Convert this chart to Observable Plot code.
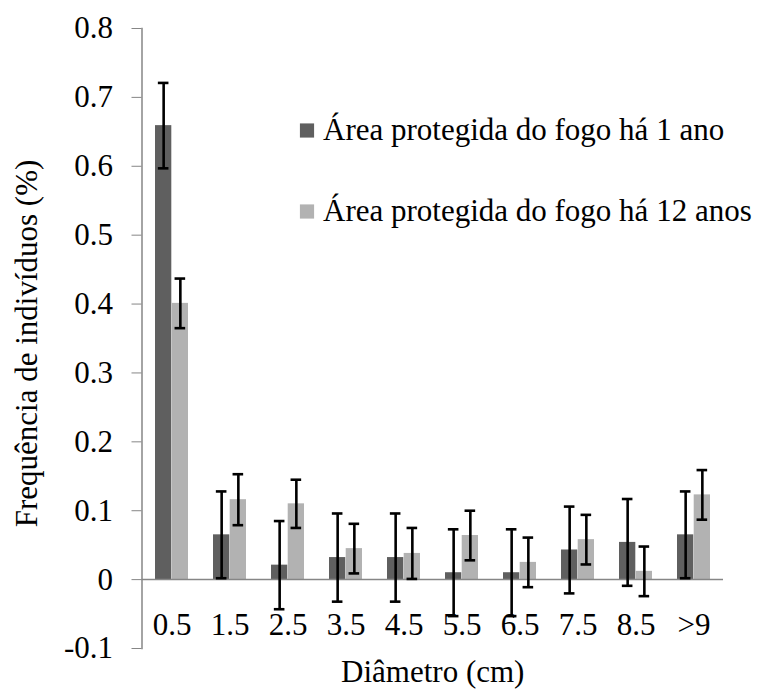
<!DOCTYPE html>
<html>
<head>
<meta charset="utf-8">
<script src="https://cdn.jsdelivr.net/npm/d3@7"></script>
<script src="https://cdn.jsdelivr.net/npm/@observablehq/plot@0.6"></script>
<style>
  body { margin: 0; background: #fff; }
  #chart svg { display: block; }
</style>
</head>
<body>
<div id="chart"></div>
<script>
const categories = ["0.5","1.5","2.5","3.5","4.5","5.5","6.5","7.5","8.5",">9"];
const series = ["Área protegida do fogo há 1 ano", "Área protegida do fogo há 12 anos"];
const ano1 = [0.659,0.065,0.021,0.032,0.032,0.010,0.010,0.043,0.054,0.065];
const ano1Err = [0.062,0.063,0.064,0.064,0.064,0.063,0.063,0.063,0.063,0.063];
const ano12 = [0.401,0.116,0.110,0.045,0.038,0.064,0.025,0.058,0.012,0.123];
const ano12Err = [0.036,0.037,0.035,0.036,0.037,0.036,0.036,0.036,0.036,0.036];
const yTicks = [-0.1,0,0.1,0.2,0.3,0.4,0.5,0.6,0.7,0.8];
const yTickLabels = ["-0.1","0","0.1","0.2","0.3","0.4","0.5","0.6","0.7","0.8"];
const yTitle = "Frequência de indivíduos (%)";
const xTitle = "Diâmetro (cm)";
const colors = ["#5f5f5f", "#b2b2b2"];

const d1 = categories.map((c,i) => ({cat: c, v: ano1[i], lo: ano1[i]-ano1Err[i], hi: ano1[i]+ano1Err[i]}));
const d2 = categories.map((c,i) => ({cat: c, v: ano12[i], lo: ano12[i]-ano12Err[i], hi: ano12[i]+ano12Err[i]}));

const half = 16.7, off = 8.35, capInset = 11.2;
const errStyle = {stroke: "black", strokeWidth: 2.6};
const ff = "Liberation Serif";

const chart = Plot.plot({
  width: 769,
  height: 689,
  marginLeft: 141.5,
  marginRight: 46,
  marginTop: 28,
  marginBottom: 41,
  style: "font-family: 'Liberation Serif', serif; font-size: 31px; color: black; background: white;",
  x: {type: "band", domain: categories, paddingInner: 0.426, paddingOuter: 0.213, label: null},
  y: {domain: [-0.1, 0.8], label: null},
  marks: [
    Plot.frame({anchor: "left", stroke: "#868686", strokeWidth: 1.5}),
    Plot.barY(d1, {x: "cat", y: "v", fill: colors[0], insetLeft: 0, insetRight: half}),
    Plot.barY(d2, {x: "cat", y: "v", fill: colors[1], insetLeft: half, insetRight: 0}),
    Plot.ruleY([0], {stroke: "#868686", strokeWidth: 1.5}),
    Plot.ruleX(d1, {x: "cat", y1: "lo", y2: "hi", dx: -off, ...errStyle}),
    Plot.ruleX(d2, {x: "cat", y1: "lo", y2: "hi", dx: off, ...errStyle}),
    Plot.tickY(d1, {x: "cat", y: "lo", dx: -off, insetLeft: capInset, insetRight: capInset, ...errStyle}),
    Plot.tickY(d1, {x: "cat", y: "hi", dx: -off, insetLeft: capInset, insetRight: capInset, ...errStyle}),
    Plot.tickY(d2, {x: "cat", y: "lo", dx: off, insetLeft: capInset, insetRight: capInset, ...errStyle}),
    Plot.tickY(d2, {x: "cat", y: "hi", dx: off, insetLeft: capInset, insetRight: capInset, ...errStyle}),
    Plot.axisY({ticks: yTicks, tickSize: 10, tickPadding: 19, stroke: "#868686", fill: "black", fontFamily: ff,
      tickFormat: (d) => yTickLabels[yTicks.findIndex(t => Math.abs(t - d) < 1e-9)], label: null}),
    Plot.axisX({tickSize: 0, tickPadding: 0, dy: -23, lineAnchor: "middle", fill: "black", fontFamily: ff, label: null}),
    Plot.text([yTitle], {frameAnchor: "left", rotate: -90, dx: -114.5, dy: 5, textAnchor: "middle", lineAnchor: "middle", fill: "black", fontFamily: ff}),
    Plot.text([xTitle], {frameAnchor: "bottom", dy: 24, textAnchor: "middle", lineAnchor: "middle", fill: "black", fontFamily: ff}),
    Plot.dot([series[0]], {frameAnchor: "top-left", dx: 165, dy: 102, symbol: "square", r: 8, fill: colors[0], stroke: null}),
    Plot.dot([series[1]], {frameAnchor: "top-left", dx: 165, dy: 183, symbol: "square", r: 8, fill: colors[1], stroke: null}),
    Plot.text([series[0]], {frameAnchor: "top-left", dx: 181, dy: 102, textAnchor: "start", lineAnchor: "middle", fill: "black", fontFamily: ff}),
    Plot.text([series[1]], {frameAnchor: "top-left", dx: 181, dy: 183, textAnchor: "start", lineAnchor: "middle", fill: "black", fontFamily: ff})
  ]
});
document.getElementById("chart").appendChild(chart);
</script>
</body>
</html>
